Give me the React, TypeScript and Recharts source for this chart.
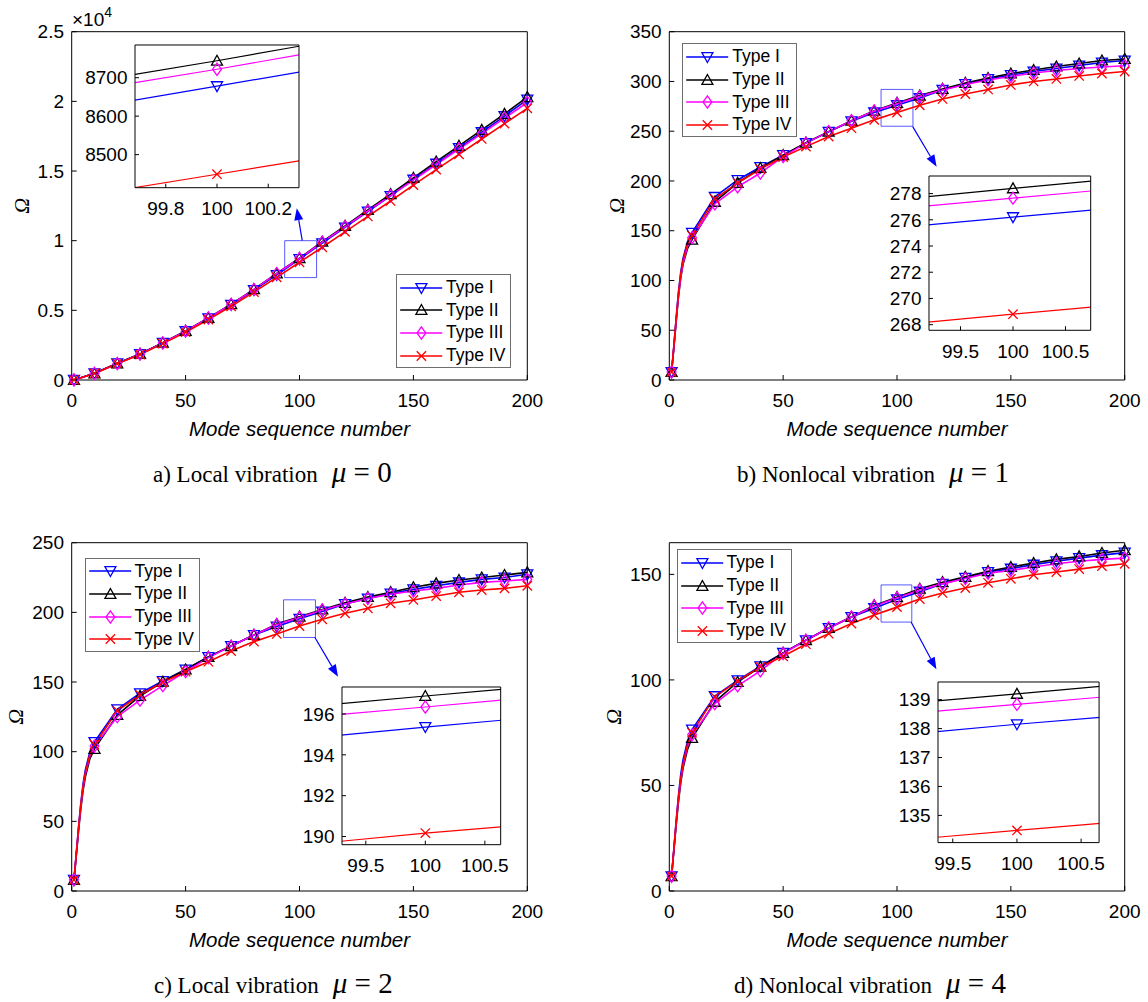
import React from "react";
import {
  LineChart,
  Line,
  XAxis,
  YAxis,
  Legend,
  ReferenceArea,
  ReferenceLine,
  CartesianGrid,
} from "recharts";

const SANS = "'Liberation Sans', Arial, Helvetica, sans-serif";
const SERIF = "'Liberation Serif', 'Times New Roman', serif";

// mode numbers (markers sit on 1, 10, 20, ... 200)
const MODES_LOCAL = [1, 10, 20, 30, 40, 50, 60, 70, 80, 90, 100, 110, 120, 130, 140, 150, 160, 170, 180, 190, 200];
const MODES_NL = [1, 2, 3, 4, 5, 6, 8, 10, 20, 30, 40, 50, 60, 70, 80, 90, 100, 110, 120, 130, 140, 150, 160, 170, 180, 190, 200];
const X_TICKS = [0, 50, 100, 150, 200];

// a) local vibration, mu = 0
const A_TYPE1 = [8, 485, 1195, 1870, 2665, 3505, 4435, 5405, 6460, 7540, 8678, 9818, 10950, 12090, 13210, 14380, 15530, 16650, 17790, 18940, 20130];
const A_TYPE2 = [8, 478, 1190, 1870, 2670, 3520, 4460, 5440, 6510, 7644, 8744, 9924, 11060, 12210, 13340, 14510, 15670, 16800, 17950, 19100, 20300];
const A_TYPE3 = [8, 472, 1175, 1855, 2655, 3505, 4450, 5430, 6500, 7642, 8722, 9890, 11010, 12130, 13230, 14350, 15470, 16580, 17690, 18800, 19920];
const A_TYPE4 = [8, 470, 1170, 1830, 2610, 3430, 4340, 5290, 6310, 7370, 8449, 9529, 10630, 11740, 12850, 13990, 15100, 16200, 17300, 18400, 19500];

// b) nonlocal vibration, mu = 1
const B_TYPE1 = [8, 34, 62, 88, 108, 122, 139, 148, 184, 201, 214, 226, 238, 249.5, 260, 268.9, 276.2, 283.4, 291.5, 297.5, 302.5, 306.5, 310, 313, 316, 319, 321];
const B_TYPE2 = [8, 32, 58, 83, 102, 116, 132, 141, 179, 198, 213, 226, 238.5, 249.6, 260.6, 270.6, 278.4, 285.8, 292.5, 298.5, 303.5, 308, 311.5, 315, 318, 321, 322.6];
const B_TYPE3 = [8, 33, 59, 84, 103, 117, 134, 143, 177, 194, 208, 224.5, 238, 249.6, 260.6, 270.3, 277.65, 285, 291.5, 297, 301.5, 305, 308.5, 311, 313, 314.5, 315.8];
const B_TYPE4 = [8, 34, 61, 86, 106, 120, 137, 145, 182, 198, 212, 224, 234.5, 244.6, 253, 261.4, 268.8, 276.1, 282.4, 287.4, 292, 296.5, 300, 302.5, 305.5, 308, 310];

// c) local vibration, mu = 2
const C_TYPE1 = [8, 27, 46, 63, 77, 87, 100, 107, 130.4, 141.9, 150.7, 159, 168, 175.8, 183.7, 189.8, 195.36, 200.6, 206, 210, 213.5, 216.5, 219.1, 221.5, 223.7, 225, 227.3];
const C_TYPE2 = [8, 25, 43, 59, 72, 82, 95, 102, 126.3, 140, 150.2, 159, 168, 175.8, 183.7, 191.6, 196.88, 202, 206.8, 211, 214.5, 218, 220.8, 223.2, 225, 226.8, 228.7];
const C_TYPE3 = [8, 26, 44, 61, 74, 84, 97, 104, 125.1, 137, 147.4, 157.4, 167.5, 175.8, 183.7, 191.2, 196.34, 201.7, 206, 210, 213, 215.3, 217.2, 219.6, 221.5, 222.5, 223.7];
const C_TYPE4 = [8, 26, 45, 62, 75, 85, 98, 105, 129.4, 140.7, 149.8, 157.4, 164.6, 172.2, 179, 184.5, 190.17, 195, 199.3, 202.9, 206.5, 208.9, 211.7, 214.4, 216, 217.2, 219.1];

// d) nonlocal vibration, mu = 4
const D_TYPE1 = [7, 20, 33, 45, 55, 62, 71, 76.5, 92.3, 99.8, 106.5, 112.8, 118.8, 124.6, 129.8, 134, 138.15, 141.8, 145.5, 148.4, 151.1, 152.7, 154.6, 156.2, 157.7, 159.1, 160.3];
const D_TYPE2 = [7, 19, 31, 42, 51, 58, 67, 72.5, 89.6, 99, 106.2, 112.8, 118.8, 124.6, 129.8, 135.3, 139.2, 143.2, 146.3, 148.8, 151.5, 153.5, 155.4, 157.1, 158.5, 160.1, 161.4];
const D_TYPE3 = [7, 19.5, 32, 43, 52, 59, 68.5, 74, 88.8, 97.2, 104.3, 112.5, 118.8, 124.6, 129.8, 135, 138.84, 142.6, 145.5, 148, 150.5, 151.9, 153.5, 155, 156.2, 157.1, 157.7];
const D_TYPE4 = [7, 19.5, 32.5, 44, 53, 60, 69.5, 75, 92, 99.4, 106.2, 111.2, 116.9, 121.9, 126.7, 130.7, 134.48, 138.3, 141.2, 143.5, 146, 147.9, 149.8, 151.1, 152.5, 153.9, 155];

const TYPES = [
  { key: "t1", name: "Type I", color: "#0000ff", marker: "down" },
  { key: "t2", name: "Type II", color: "#000000", marker: "up" },
  { key: "t3", name: "Type III", color: "#ff00ff", marker: "diamond" },
  { key: "t4", name: "Type IV", color: "#ff0000", marker: "cross" },
];

const isMarked = (m: number) => m === 1 || m % 10 === 0;

function buildRows(modes: number[], series: number[][]) {
  return modes.map((mode, i) => ({
    mode,
    t1: series[0][i],
    t2: series[1][i],
    t3: series[2][i],
    t4: series[3][i],
  }));
}

const PANELS = [
  {
    id: "a",
    ox: 0, oy: 0, h: 500, yW: 71.7, right: 46.7,
    rows: buildRows(MODES_LOCAL, [A_TYPE1, A_TYPE2, A_TYPE3, A_TYPE4]),
    yDomain: [0, 25000], yTicks: [0, 5000, 10000, 15000, 20000, 25000],
    fmt: (v: number) => String(v / 10000),
    omegaDx: 21.5,
    legend: { left: 396, top: 274 },
    box: { x1: 93.5, x2: 107.5, y1: 7350, y2: 10000 },
    arrow: [{ x: 101.2, y: 10000 }, { x: 98.8, y: 12325 }],
    inset: {
      x: 134.7, y: 45, w: 164, h: 142.7,
      xDomain: [99.68, 100.32], xTicks: [99.8, 100, 100.2],
      yDomain: [8414, 8785], yTicks: [8500, 8600, 8700],
    },
  },
  {
    id: "b",
    ox: 574, oy: 0, h: 500, yW: 95.3, right: 23.3,
    rows: buildRows(MODES_NL, [B_TYPE1, B_TYPE2, B_TYPE3, B_TYPE4]),
    yDomain: [0, 350], yTicks: [0, 50, 100, 150, 200, 250, 300, 350],
    fmt: (v: number) => String(v),
    omegaDx: 42.3,
    legend: { left: 108.2, top: 43.3 },
    box: { x1: 93, x2: 107, y1: 255, y2: 292 },
    arrow: [{ x: 106.9, y: 254.6 }, { x: 117.4, y: 214.3 }],
    inset: {
      x: 929.3, y: 175.7, w: 161.7, h: 154.3,
      xDomain: [99.2, 100.74], xTicks: [99.5, 100, 100.5],
      yDomain: [267.57, 279.34], yTicks: [268, 270, 272, 274, 276, 278],
    },
  },
  {
    id: "c",
    ox: 0, oy: 511, h: 490, yW: 71.7, right: 46.7,
    rows: buildRows(MODES_NL, [C_TYPE1, C_TYPE2, C_TYPE3, C_TYPE4]),
    yDomain: [0, 250], yTicks: [0, 50, 100, 150, 200, 250],
    fmt: (v: number) => String(v),
    omegaDx: 16,
    legend: { left: 84.6, top: 46.7 },
    box: { x1: 93, x2: 107, y1: 182, y2: 209 },
    arrow: [{ x: 106.7, y: 182.1 }, { x: 116.9, y: 153.8 }],
    inset: {
      x: 342.3, y: 687.3, w: 158.7, h: 157.7,
      xDomain: [99.3, 100.633], xTicks: [99.5, 100, 100.5],
      yDomain: [189.6, 197.32], yTicks: [190, 192, 194, 196],
    },
  },
  {
    id: "d",
    ox: 574, oy: 511, h: 490, yW: 95.3, right: 23.3,
    rows: buildRows(MODES_NL, [D_TYPE1, D_TYPE2, D_TYPE3, D_TYPE4]),
    yDomain: [0, 165], yTicks: [0, 50, 100, 150],
    fmt: (v: number) => String(v),
    omegaDx: 40,
    legend: { left: 102.6, top: 38.3 },
    box: { x1: 93, x2: 106.5, y1: 127.4, y2: 145 },
    arrow: [{ x: 106.2, y: 127.4 }, { x: 117.3, y: 105 }],
    inset: {
      x: 937.6, y: 681.7, w: 161.1, h: 160.6,
      xDomain: [99.385, 100.64], xTicks: [99.5, 100, 100.5],
      yDomain: [134.06, 139.61], yTicks: [135, 136, 137, 138, 139],
    },
  },
];

const CAPTIONS = [
  { x: 153, y: 482, text: "a) Local vibration", mu: "0" },
  { x: 737, y: 482, text: "b) Nonlocal vibration", mu: "1" },
  { x: 154, y: 993, text: "c) Local vibration", mu: "2" },
  { x: 734, y: 993, text: "d) Nonlocal vibration", mu: "4" },
];

const PLOT_TOP = 31.7;
const PLOT_H = 348.3;

function Marker({ cx, cy, kind, color, s = 5.5, sw = 1.3 }: any) {
  const common = { fill: "none", stroke: color, strokeWidth: sw };
  if (kind === "down")
    return <polygon {...common} points={`${cx - s},${cy - s * 0.8} ${cx + s},${cy - s * 0.8} ${cx},${cy + s}`} />;
  if (kind === "up")
    return <polygon {...common} points={`${cx - s},${cy + s * 0.8} ${cx + s},${cy + s * 0.8} ${cx},${cy - s}`} />;
  if (kind === "diamond")
    return <polygon {...common} points={`${cx},${cy - s * 1.1} ${cx + s * 0.8},${cy} ${cx},${cy + s * 1.1} ${cx - s * 0.8},${cy}`} />;
  const d = s * 0.85;
  return <path {...common} d={`M${cx - d},${cy - d}L${cx + d},${cy + d}M${cx - d},${cy + d}L${cx + d},${cy - d}`} />;
}

const dotFor = (t: any, show: (m: number) => boolean, s: number) => (props: any) => {
  const { cx, cy, payload, index } = props;
  if (cx == null || cy == null || !show(payload.mode)) return <g key={`${t.key}-${index}`} />;
  return (
    <g key={`${t.key}-${index}`}>
      <Marker cx={cx} cy={cy} kind={t.marker} color={t.color} s={s} />
    </g>
  );
};

const OmegaLabel = ({ viewBox, dx }: any) => {
  if (!viewBox) return null;
  const x = viewBox.x + dx;
  const y = viewBox.y + viewBox.height / 2;
  return (
    <text x={x} y={y} transform={`rotate(-90 ${x} ${y})`} textAnchor="middle" dominantBaseline="central"
      fontFamily={SERIF} fontStyle="italic" fontSize={22} fill="#000">
      Ω
    </text>
  );
};

const arrowShape = (props: any) => {
  const { x1, y1, x2, y2 } = props;
  const a = Math.atan2(y2 - y1, x2 - x1);
  const L = 12;
  const W = 4.5;
  const bx = x2 - L * Math.cos(a);
  const by = y2 - L * Math.sin(a);
  const pts = `${x2},${y2} ${bx + W * Math.sin(a)},${by - W * Math.cos(a)} ${bx - W * Math.sin(a)},${by + W * Math.cos(a)}`;
  return (
    <g>
      <line x1={x1} y1={y1} x2={bx} y2={by} stroke="#0000ff" strokeWidth={1.2} />
      <polygon points={pts} fill="#0000ff" />
    </g>
  );
};

const LegendBox = () => (
  <div style={{ width: 115, height: 94, border: "1.5px solid #6e6e6e", background: "#fff", boxSizing: "border-box", paddingTop: 1.5 }}>
    {TYPES.map((t) => (
      <div key={t.key} style={{ height: 22.6, display: "flex", alignItems: "center" }}>
        <svg width={47} height={20} style={{ flex: "none" }}>
          <line x1={3.2} y1={10} x2={45.2} y2={10} stroke={t.color} strokeWidth={1.5} />
          <Marker cx={24.4} cy={10} kind={t.marker} color={t.color} s={5.5} />
        </svg>
        <span style={{ fontFamily: SANS, fontSize: 17.5, color: "#000", marginLeft: 2, lineHeight: 1 }}>{t.name}</span>
      </div>
    ))}
  </div>
);

const tickStyle = { fontSize: 19, fill: "#000", fontFamily: SANS };

function Inset({ rows, cfg }: any) {
  const padL = 64, padT = 6, padR = 10, padB = 40;
  const [d0, d1] = cfg.xDomain;
  const show = (m: number) => m >= d0 && m <= d1;
  return (
    <div style={{ position: "absolute", left: cfg.x - padL, top: cfg.y - padT }}>
      <LineChart width={cfg.w + padL + padR} height={cfg.h + padT + padB} data={rows}
        margin={{ top: padT, right: padR, bottom: 0, left: 0 }}>
        <CartesianGrid xAxisId="x" yAxisId="y" horizontal={false} vertical={false} fill="#fff" fillOpacity={1} />
        <XAxis xAxisId="x" type="number" dataKey="mode" domain={cfg.xDomain} ticks={cfg.xTicks} interval={0}
          allowDataOverflow height={padB} stroke="#000" tickSize={-4} tickMargin={17.8} tick={tickStyle} />
        <XAxis xAxisId="xt" orientation="top" type="number" domain={cfg.xDomain} ticks={cfg.xTicks} interval={0}
          allowDataOverflow mirror tick={false} tickSize={4} stroke="#000" />
        <YAxis yAxisId="y" type="number" domain={cfg.yDomain} ticks={cfg.yTicks} interval={0}
          allowDataOverflow width={padL} stroke="#000" tickSize={-4} tickMargin={11.5} tick={tickStyle} />
        <YAxis yAxisId="yr" orientation="right" type="number" domain={cfg.yDomain} ticks={cfg.yTicks} interval={0}
          allowDataOverflow mirror tick={false} tickSize={4} stroke="#000" />
        {TYPES.map((t) => (
          <Line key={t.key} xAxisId="x" yAxisId="y" type="linear" dataKey={t.key} stroke={t.color} strokeWidth={1.2}
            dot={dotFor(t, show, 5.5)} activeDot={false} isAnimationActive={false} />
        ))}
      </LineChart>
    </div>
  );
}

function Panel({ p }: any) {
  const xH = p.h - PLOT_TOP - PLOT_H;
  return (
    <>
      <div style={{ position: "absolute", left: p.ox, top: p.oy }}>
        <LineChart width={574} height={p.h} data={p.rows} margin={{ top: PLOT_TOP, right: p.right, bottom: 0, left: 0 }}>
          <XAxis xAxisId="x" type="number" dataKey="mode" domain={[0, 200]} ticks={X_TICKS} interval={0} height={xH}
            stroke="#000" tickSize={-5} tickMargin={18.8} tick={tickStyle}
            label={{ value: "Mode sequence number", position: "insideTop", offset: 41.5, fontSize: 20.5, fontStyle: "italic", fontFamily: SANS, fill: "#000" }} />
          <XAxis xAxisId="xt" orientation="top" type="number" domain={[0, 200]} ticks={X_TICKS} interval={0}
            allowDataOverflow mirror tick={false} tickSize={5} stroke="#000" />
          <YAxis yAxisId="y" type="number" domain={p.yDomain} ticks={p.yTicks} interval={0} width={p.yW}
            stroke="#000" tickSize={-5} tickMargin={12.7} tick={tickStyle} tickFormatter={p.fmt}
            label={<OmegaLabel dx={p.omegaDx} />} />
          <YAxis yAxisId="yr" orientation="right" type="number" domain={p.yDomain} ticks={p.yTicks} interval={0}
            allowDataOverflow mirror tick={false} tickSize={5} stroke="#000" />
          <ReferenceArea xAxisId="x" yAxisId="y" x1={p.box.x1} x2={p.box.x2} y1={p.box.y1} y2={p.box.y2}
            fill="none" stroke="#0000ff" strokeOpacity={0.65} strokeWidth={1} />
          <ReferenceLine xAxisId="x" yAxisId="y" segment={p.arrow} shape={arrowShape} />
          {TYPES.map((t) => (
            <Line key={t.key} xAxisId="x" yAxisId="y" type="linear" dataKey={t.key} name={t.name} stroke={t.color}
              strokeWidth={1.6} dot={dotFor(t, isMarked, 5.5)} activeDot={false} isAnimationActive={false} />
          ))}
          <Legend layout="vertical" align="center" verticalAlign="middle" content={() => <LegendBox />}
            wrapperStyle={{ left: p.legend.left, top: p.legend.top, width: 115, height: 94 }} />
        </LineChart>
      </div>
      <Inset rows={p.rows} cfg={p.inset} />
    </>
  );
}

export default function App() {
  return (
    <div style={{ position: "absolute", left: 0, top: 0, width: 1148, height: 1002, background: "#fff", overflow: "hidden" }}>
      {PANELS.map((p) => (
        <Panel key={p.id} p={p} />
      ))}
      <svg width={1148} height={1002} style={{ position: "absolute", left: 0, top: 0, pointerEvents: "none" }}>
        <text x={72} y={26} fontFamily={SANS} fontSize={19} fill="#000">
          ×10<tspan dy={-9} fontSize={14}>4</tspan>
        </text>
        {CAPTIONS.map((c) => (
          <text key={c.text + c.mu} x={c.x} y={c.y} fontFamily={SERIF} fontSize={23} fill="#000">
            {c.text}
            <tspan dx={14} fontStyle="italic" fontSize={29}>μ</tspan>
            <tspan fontSize={29}>{" = " + c.mu}</tspan>
          </text>
        ))}
      </svg>
    </div>
  );
}
